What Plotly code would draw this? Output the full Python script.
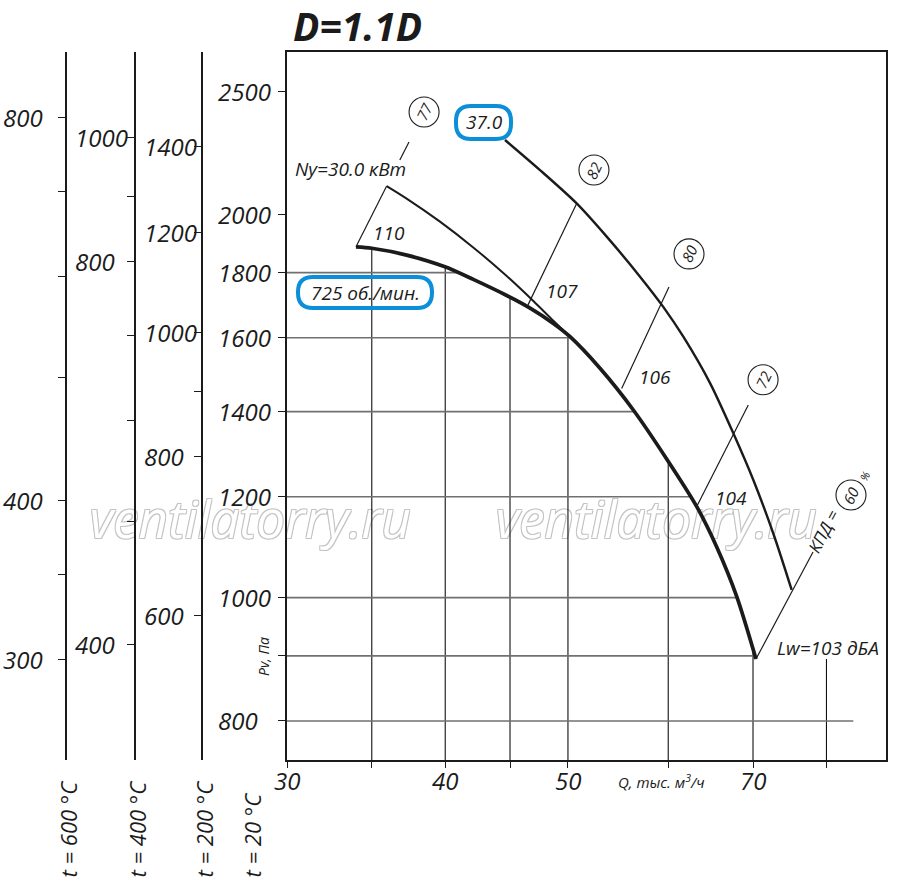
import numpy as np
import plotly.graph_objects as go

# ---------------- data ----------------
TITLE = "D=1.1D"
SPEED_LABEL = "725 об./мин."
POWER_LABEL = "37.0"
NY_LABEL = "Ny=30.0 кВт"
LW_LABEL = "Lw=103 дБА"
KPD_LABEL = "КПД ="
X_TITLE = "Q, тыс. м<sup>3</sup>/ч"
Y_TITLE = "Pv, Па"
WATERMARK = "ventilatorry.ru"

# 725 rpm characteristic: Q [thousand m3/h], Pv [Pa]
curve_q = [34.01, 35.0, 37.29, 39.98, 42.09, 44.73, 46.67, 48.69, 50.19, 53.0, 56.31, 59.83, 63.19, 65.53, 67.96, 70.38]
curve_p = [1886, 1881, 1858, 1819, 1778, 1727, 1688, 1642, 1603, 1514, 1404, 1285, 1179, 1096, 1002, 895]

# Ny = 30.0 kW boundary curve
ny_q = [35.96, 37.29, 39.62, 42.09, 44.73, 46.95, 48.69, 50.19]
ny_p = [2105, 2058, 1974, 1884, 1789, 1710, 1650, 1603]

# 37.0 kW outer boundary curve
outer_q = [44.59, 47.52, 50.80, 53.65, 57.0, 59.46, 61.67, 64.74, 67.54, 70.04, 72.63, 75.10]
outer_p = [2288, 2167, 2040, 1921, 1787, 1692, 1603, 1474, 1346, 1237, 1123, 1014]

# efficiency rays (start / end) and their circled labels
eff_labels = ["77", "82", "80", "72", "60"]
eff_q0 = [34.01, 46.50, 55.13, 63.19, 70.38]
eff_p0 = [1886, 1698, 1460, 1179, 895]
eff_q1 = [35.96, 50.80, 60.08, 69.40, 78.07]
eff_p1 = [2105, 2040, 1754, 1417, 1086]
ext77_q = [36.83, 37.45]
ext77_p = [2207, 2280]
eff_mark_q = [38.49, 52.42, 62.31, 71.29, 83.65]
eff_mark_p = [2407, 2167, 1862, 1483, 1204]

# noise levels along the characteristic
noise_labels = ["110", "107", "106", "104"]

# grid
grid_q = [35, 40, 45, 50, 60, 70, 80]
grid_p = [900, 1000, 1200, 1400, 1600, 1800]
grid_p_full = 800
grid_p_full_end_q = 84

# axes ticks
x_tickvals = [30, 35, 40, 45, 50, 60, 70, 80]
x_labels = [30, 40, 50, 70]
main_ticks = [800, 900, 1000, 1200, 1400, 1600, 1800, 2000, 2500]
main_labels = [800, 1000, 1200, 1400, 1600, 1800, 2000, 2500]

temps = [600, 400, 200]
t600_ticks = [300, 350, 400, 500, 600, 700, 800]
t600_labels = [300, 400, 800]
t400_ticks = [400, 500, 600, 700, 800, 900, 1000]
t400_labels = [400, 800, 1000]
t200_ticks = [600, 800, 900, 1000, 1200, 1400]
t200_labels = [600, 800, 1000, 1200, 1400]

# ---------------- layout geometry ----------------
W, H = 900, 895
PL, PR, PT, PB = 287, 886, 52, 760
LN10 = np.log(10)
xpx_per_ln = 550.0
xlo = np.log10(30)
xhi = xlo + (PR - PL) / xpx_per_ln / LN10
yref_px, yref_val, ypx_per_ln = 91, 2500, 552.9
ylo = np.log10(yref_val) - (PB - yref_px) / ypx_per_ln / LN10
yhi = np.log10(yref_val) + (yref_px - PT) / ypx_per_ln / LN10


def X(px):
    return px / W


def Y(py):
    return 1 - py / H


def px_to_q(px):
    return 30 * np.exp((px - PL) / xpx_per_ln)


def py_to_p(py):
    return yref_val * np.exp((yref_px - py) / ypx_per_ln)


FONT = "Open Sans"
INK = "#1b1b1b"
BLUE = "#0b8fd8"


def ll_interp(v, xs, ys):
    return float(np.exp(np.interp(np.log(v), np.log(xs), np.log(ys))))


fig = go.Figure()

# ---- watermark (drawn first, beneath every line); anchored at the right end of each copy ----
wm_right_px = [411, 817]
fig.add_trace(go.Scatter(
    x=[px_to_q(v) for v in wm_right_px], y=[py_to_p(525)] * 2, mode="text", text=[WATERMARK] * 2,
    textposition="middle left", cliponaxis=False, hoverinfo="skip", showlegend=False,
    textfont=dict(family=FONT, size=51, color="white", style="italic",
                  shadow="1px 1px 0 #c4c4c4, -1px -1px 0 #c4c4c4, 1px -1px 0 #c4c4c4, -1px 1px 0 #c4c4c4")))

# ---- grid lines clipped by the characteristic ----
vx, vy = [], []
for q in grid_q:
    top = ll_interp(q, curve_q, curve_p)
    vx += [q, q, None]
    vy += [10 ** ylo, top, None]
fig.add_trace(go.Scatter(x=vx, y=vy, mode="lines", line=dict(color="#111", width=1.1),
                         hoverinfo="skip", showlegend=False))
hx, hy = [], []
for p in grid_p:
    end = ll_interp(p, curve_p[::-1], curve_q[::-1])
    hx += [30, end, None]
    hy += [p, p, None]
hx += [30, grid_p_full_end_q, None]
hy += [grid_p_full, grid_p_full, None]
fig.add_trace(go.Scatter(x=hx, y=hy, mode="lines", line=dict(color="#707070", width=1.6),
                         hoverinfo="skip", showlegend=False))

# ---- efficiency rays ----
rx, ry = [], []
for q0, p0, q1, p1 in zip(eff_q0, eff_p0, eff_q1, eff_p1):
    rx += [q0, q1, None]
    ry += [p0, p1, None]
rx += ext77_q
ry += ext77_p
fig.add_trace(go.Scatter(x=rx, y=ry, mode="lines", line=dict(color=INK, width=1.2),
                         hoverinfo="skip", showlegend=False))

# ---- curves ----
fig.add_trace(go.Scatter(x=outer_q, y=outer_p, mode="lines",
                         line=dict(color=INK, width=2.4, shape="spline", smoothing=0.8), showlegend=False))
fig.add_trace(go.Scatter(x=ny_q, y=ny_p, mode="lines",
                         line=dict(color=INK, width=2.0, shape="spline", smoothing=0.8), showlegend=False))
fig.add_trace(go.Scatter(x=curve_q, y=curve_p, mode="lines",
                         line=dict(color=INK, width=3.7, shape="spline", smoothing=0.8), showlegend=False))

# ---- circled efficiency labels ----
fig.add_trace(go.Scatter(x=eff_mark_q, y=eff_mark_p, mode="markers",
                         marker=dict(symbol="circle-open", size=30, color=INK, line=dict(width=1.1)),
                         hoverinfo="skip", showlegend=False))

# dummy traces so the temperature axes are rendered
for i, t in enumerate(temps):
    f = 293.0 / (273.0 + t)
    fig.add_trace(go.Scatter(x=[40], y=[1000 * f], yaxis="y%d" % (i + 2), mode="markers",
                             marker=dict(opacity=0), hoverinfo="skip", showlegend=False))

ann = []


def add_text(text, x, y, size=19, angle=0, xanchor="center", yanchor="middle", xref="paper", yref="paper",
             weight="normal", style="italic", color=INK):
    ann.append(dict(text=text, x=x, y=y, xref=xref, yref=yref, showarrow=False, textangle=angle,
                    xanchor=xanchor, yanchor=yanchor,
                    font=dict(family=FONT, size=size, color=color, style=style, weight=weight)))


# title
add_text(TITLE, X(357), Y(26), size=39, weight="bold")

# circled numbers
for lab, q, p in zip(eff_labels, eff_mark_q, eff_mark_p):
    add_text(lab, np.log10(q), np.log10(p), size=15, angle=-64, xref="x", yref="y")

# curve labels
noise_pos = [(389, 233), (562, 291), (655, 377), (731, 498)]
for lab, (a, b) in zip(noise_labels, noise_pos):
    add_text(lab, X(a), Y(b), size=19)
add_text(NY_LABEL, X(350), Y(169), size=19)
add_text(SPEED_LABEL, X(365), Y(293), size=19)
add_text(POWER_LABEL, X(484), Y(122), size=19)
add_text(LW_LABEL, X(828), Y(648), size=19)
add_text(KPD_LABEL, X(823), Y(531), size=17, angle=-62)
add_text("%", X(864), Y(476), size=11, angle=-62)

# axis titles
add_text(Y_TITLE, X(263), Y(657), size=14, angle=-90)
add_text(X_TITLE, X(661), Y(781), size=15)

# x tick labels
for v in x_labels:
    add_text(str(v), np.log10(v), Y(780), size=24, xref="x")

# main y tick labels (left aligned)
for v in main_labels:
    add_text(str(v), X(216), np.log10(v), size=24, xanchor="left", yref="y")

# temperature axes labels
temp_pos = [66, 135, 202]
temp_lab_left = [1, 73, 142]
temp_labels_all = [t600_labels, t400_labels, t200_labels]
for i, t in enumerate(temps):
    for v in temp_labels_all[i]:
        add_text(str(v), X(temp_lab_left[i]), np.log10(v), size=24, xanchor="left", yref="y%d" % (i + 2))
    add_text("t = %d °C" % t, X(temp_pos[i] + 1), Y(880), size=22, angle=-90, yanchor="bottom")
add_text("t = 20 °C", X(251), Y(880), size=22, angle=-90, yanchor="bottom")


def rbox(x0, y0, x1, y1, r):
    pts = [
        ("M", [(x0 + r, y0)]), ("L", [(x1 - r, y0)]), ("Q", [(x1, y0), (x1, y0 + r)]),
        ("L", [(x1, y1 - r)]), ("Q", [(x1, y1), (x1 - r, y1)]), ("L", [(x0 + r, y1)]),
        ("Q", [(x0, y1), (x0, y1 - r)]), ("L", [(x0, y0 + r)]), ("Q", [(x0, y0), (x0 + r, y0)]),
    ]
    s = ""
    for cmd, ps in pts:
        s += cmd + " " + " ".join("%.5f,%.5f" % (X(a), Y(b)) for a, b in ps) + " "
    return s + "Z"


shapes = [
    dict(type="path", xref="paper", yref="paper", path=rbox(298, 277, 432, 308, 15),
         line=dict(color=BLUE, width=4)),
    dict(type="path", xref="paper", yref="paper", path=rbox(456, 106, 511, 139, 15),
         line=dict(color=BLUE, width=4)),
]

common_y = dict(type="log", showgrid=False, zeroline=False, showline=True, linecolor=INK, linewidth=2.4,
                ticks="outside", ticklen=7, tickwidth=1.3, tickcolor=INK, showticklabels=False)

layout = dict(
    width=W, height=H, margin=dict(l=0, r=0, t=0, b=0, pad=0, autoexpand=False), autosize=False,
    paper_bgcolor="white", plot_bgcolor="white", showlegend=False,
    font=dict(family=FONT, color=INK),
    xaxis=dict(type="log", range=[xlo, xhi], domain=[X(PL), X(PR)], showgrid=False, zeroline=False,
               showline=True, linecolor=INK, linewidth=2.4, mirror=True, ticks="outside", ticklen=6,
               tickwidth=1.3, tickcolor=INK, tickvals=x_tickvals, showticklabels=False),
    yaxis=dict(range=[ylo, yhi], domain=[Y(PB), Y(PT)], mirror=True, tickvals=main_ticks, **common_y),
    annotations=ann, shapes=shapes,
)
temp_ticks_all = [t600_ticks, t400_ticks, t200_ticks]
for i, t in enumerate(temps):
    sh = np.log10(293.0 / (273.0 + t))
    layout["yaxis%d" % (i + 2)] = dict(range=[ylo + sh, yhi + sh], overlaying="y", anchor="free",
                                        position=X(temp_pos[i]), side="left", automargin=False,
                                        tickvals=temp_ticks_all[i], **common_y)

fig.update_layout(**layout)
fig.write_html("out.html", config=dict(displayModeBar=False),
               post_script="document.body.style.margin='0';document.body.style.overflow='hidden';")
